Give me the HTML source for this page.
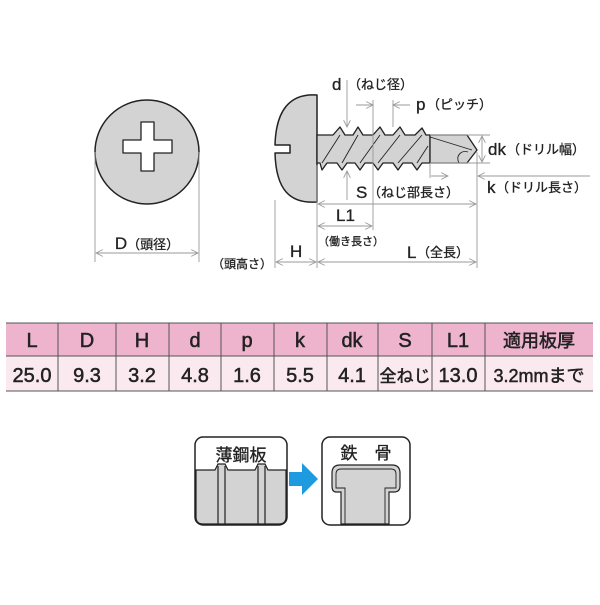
<!DOCTYPE html>
<html><head><meta charset="utf-8"><style>
html,body{margin:0;padding:0;background:#fff;}
svg text{font-family:"Liberation Sans","Noto Sans CJK JP",sans-serif;}
</style></head><body>
<svg width="600" height="600" viewBox="0 0 600 600" xmlns="http://www.w3.org/2000/svg">
<defs>
<marker id="a" viewBox="0 0 10 10" refX="10" refY="5" markerWidth="9" markerHeight="7" orient="auto-start-reverse" markerUnits="userSpaceOnUse"><path d="M0,0 L10,5 L0,10" fill="none" stroke="#999" stroke-width="1.2"/></marker>
</defs>
<!-- front view circle -->
<circle cx="147" cy="152" r="52" fill="#d3d3d3" stroke="#222" stroke-width="1.5"/>
<path d="M141,122 h13 v18 h18 v13 h-18 v18 h-13 v-18 h-18 v-13 h18 z" fill="#fff" stroke="#222" stroke-width="1.3" stroke-linejoin="round"/>
<g stroke="#999" stroke-width="0.9" fill="none">
<line x1="95" y1="152" x2="95" y2="262"/><line x1="199" y1="152" x2="199" y2="262"/>
<line x1="96" y1="253" x2="198" y2="253" marker-start="url(#a)" marker-end="url(#a)"/>
</g>
<g fill="#222" stroke="#222" stroke-width="0.3">
<text x="147" y="249" font-size="17" text-anchor="middle">D<tspan font-size="13">（頭径）</tspan></text>
</g>

<!-- side view -->
<path d="M317,95 C290,93 276,110 275,145 L290,145 L290,153 L275,153 C276,190 290,204 317,202 Z" fill="#d3d3d3" stroke="#222" stroke-width="1.5" stroke-linejoin="round"/>
<path d="M317,135 L333,135 L340,127 L345,135 L353,135 L358,127 L363,135 L373,135 L380,127 L385,135 L393,135 L400,127 L405,135 L415,135 L422,128 L426,135 L430,135 L430,163 L422,163 L417,170 L412,163 L403,163 L398,170 L393,163 L383,163 L378,170 L373,163 L365,163 L360,170 L355,163 L347,163 L342,170 L337,163 L327,163 L322,170 L320,163 L317,163 Z" fill="#d3d3d3" stroke="#222" stroke-width="1.3" stroke-linejoin="round"/>
<g stroke="#222" stroke-width="0.9">
<line x1="322" y1="163" x2="340" y2="135"/><line x1="342" y1="163" x2="358" y2="135"/><line x1="360" y1="163" x2="380" y2="135"/><line x1="378" y1="163" x2="400" y2="135"/><line x1="398" y1="163" x2="422" y2="135"/><line x1="417" y1="163" x2="428" y2="146"/>
</g>
<path d="M430,135 L467,135 L477,150 L467,163 L430,163 Z" fill="#d3d3d3" stroke="#222" stroke-width="1.3"/>
<path d="M430,137 L472,150 M459,163 C455,155 462,150 468,152" fill="none" stroke="#222" stroke-width="0.9"/>

<g stroke="#999" stroke-width="0.9" fill="none">
<line x1="347" y1="80" x2="347" y2="127" marker-end="url(#a)"/>
<line x1="347" y1="200" x2="347" y2="171" marker-end="url(#a)"/>
<line x1="373" y1="100" x2="373" y2="230"/><line x1="393" y1="100" x2="393" y2="127"/>
<line x1="356" y1="105" x2="373" y2="105" marker-end="url(#a)"/>
<line x1="410" y1="105" x2="393" y2="105" marker-end="url(#a)"/>
<line x1="430" y1="135" x2="490" y2="135"/><line x1="430" y1="163" x2="490" y2="163"/>
<line x1="482" y1="136" x2="482" y2="162" marker-start="url(#a)" marker-end="url(#a)"/>
<line x1="430" y1="163" x2="430" y2="178"/>
<line x1="431" y1="176" x2="448" y2="176" marker-end="url(#a)"/>
<line x1="590" y1="176" x2="478" y2="176" marker-end="url(#a)"/>
<line x1="275" y1="200" x2="275" y2="268"/><line x1="317" y1="165" x2="317" y2="268"/><line x1="477" y1="152" x2="477" y2="268"/>
<line x1="318" y1="204" x2="476" y2="204" marker-start="url(#a)" marker-end="url(#a)"/>
<line x1="318" y1="226" x2="372" y2="226" marker-start="url(#a)" marker-end="url(#a)"/>
<line x1="318" y1="262" x2="476" y2="262" marker-start="url(#a)" marker-end="url(#a)"/>
<line x1="276" y1="262" x2="316" y2="262" marker-start="url(#a)" marker-end="url(#a)"/>
</g>
<g fill="#222" stroke="#222" stroke-width="0.3">
<text x="332" y="90" font-size="17">d</text><text x="348" y="89" font-size="13">（ねじ径）</text>
<text x="416" y="110" font-size="17">p</text><text x="427" y="109" font-size="13">（ピッチ）</text>
<text x="488" y="155" font-size="17">dk</text><text x="507" y="154" font-size="13">（ドリル幅）</text>
<text x="487" y="193" font-size="17">k</text><text x="496" y="192" font-size="13">（ドリル長さ）</text>
<text x="356" y="198" font-size="17">S</text><text x="368" y="197" font-size="13">（ねじ部長さ）</text>
<text x="336" y="221" font-size="17">L1</text>
<text x="318" y="245" font-size="11">（働き長さ）</text>
<text x="290" y="257" font-size="17">H</text>
<text x="407" y="258" font-size="17">L</text><text x="417" y="257" font-size="13">（全長）</text>
<text x="212" y="268" font-size="12">（頭高さ）</text>
</g>

<!-- table -->
<rect x="6" y="323" width="587" height="33" fill="#eeb3cd"/>
<rect x="6" y="356" width="587" height="35" fill="#fbe9f0"/>
<g stroke="#555" stroke-width="1">
<line x1="6" y1="323" x2="593" y2="323"/><line x1="6" y1="356" x2="593" y2="356"/><line x1="6" y1="391" x2="593" y2="391"/>
<line x1="58" y1="323" x2="58" y2="391"/><line x1="116" y1="323" x2="116" y2="391"/><line x1="169" y1="323" x2="169" y2="391"/><line x1="221" y1="323" x2="221" y2="391"/><line x1="274" y1="323" x2="274" y2="391"/><line x1="327" y1="323" x2="327" y2="391"/><line x1="378" y1="323" x2="378" y2="391"/><line x1="432" y1="323" x2="432" y2="391"/><line x1="485" y1="323" x2="485" y2="391"/>
</g>
<g fill="#222" stroke="#222" stroke-width="0.5" font-size="20" text-anchor="middle">
<text x="32" y="347">L</text><text x="87" y="347">D</text><text x="142" y="347">H</text><text x="195" y="347">d</text><text x="247" y="347">p</text><text x="300" y="347">k</text><text x="352" y="347">dk</text><text x="405" y="347">S</text><text x="458" y="347">L1</text><text x="539" y="347" font-size="18">適用板厚</text>
<text x="32" y="382">25.0</text><text x="87" y="382">9.3</text><text x="142" y="382">3.2</text><text x="195" y="382">4.8</text><text x="247" y="382">1.6</text><text x="300" y="382">5.5</text><text x="352" y="382">4.1</text><text x="405" y="382" font-size="17">全ねじ</text><text x="458" y="382">13.0</text><text x="539" y="382" font-size="18">3.2mmまで</text>
</g>

<!-- bottom boxes -->
<rect x="195" y="437" width="92" height="88" rx="8" fill="#fff" stroke="#222" stroke-width="1.5"/>
<path d="M196,470 H215 L218,464 H225 L228,470 H255 L258,464 H265 L268,470 H286 V517 Q286,524 279,524 H203 Q196,524 196,517 Z" fill="#d3d3d3" stroke="#222" stroke-width="1.2"/>
<g stroke="#222" stroke-width="1.2"><line x1="218" y1="466" x2="218" y2="524"/><line x1="225" y1="466" x2="225" y2="524"/><line x1="258" y1="466" x2="258" y2="524"/><line x1="265" y1="466" x2="265" y2="524"/></g>
<text x="241" y="461" font-size="17" text-anchor="middle" fill="#222" stroke="#222" stroke-width="0.3">薄鋼板</text>
<path d="M289,472 H302 V463 L318,479 L302,495 V486 H289 Z" fill="#1e9be0"/>
<rect x="322" y="437" width="88" height="88" rx="8" fill="#fff" stroke="#222" stroke-width="1.5"/>
<path d="M341,524 V492 H336 Q332,492 332,486 V473 Q332,465 340,465 H392 Q400,465 400,473 V486 Q400,492 394,492 H389 V524 Z" fill="#d3d3d3" stroke="#222" stroke-width="1.2"/>
<path d="M345,524 V488 H336 V474 Q336,469 341,469 H391 Q396,469 396,474 V488 H385 V524" fill="none" stroke="#222" stroke-width="0.9"/>
<text x="366" y="459" font-size="17" text-anchor="middle" fill="#222" stroke="#222" stroke-width="0.3">鉄　骨</text>
</svg>
</body></html>
